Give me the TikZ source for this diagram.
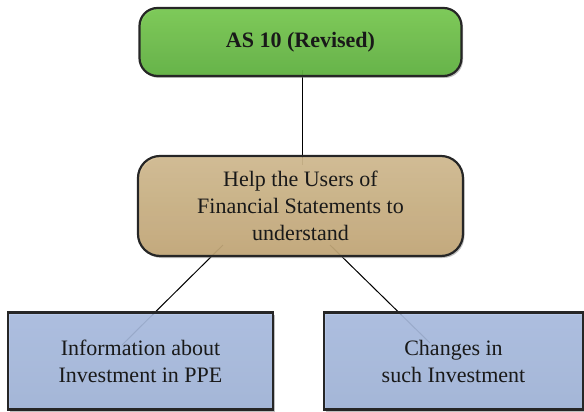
\documentclass[tikz,border=0pt]{standalone}
\usepackage{fontspec}
\setmainfont{Liberation Serif}
\usetikzlibrary{shadows}
\definecolor{grtop}{HTML}{78CB50}
\definecolor{grbot}{HTML}{5EB23D}
\definecolor{tntop}{HTML}{D4BC8F}
\definecolor{tnbot}{HTML}{C4A775}
\definecolor{bltop}{HTML}{AABEE4}
\definecolor{blbot}{HTML}{A0B5DC}
\definecolor{edge}{HTML}{262626}
\tikzset{
  box/.style={draw=edge, line width=2.2pt, align=center, inner sep=0pt,
    font=\fontsize{22}{27}\selectfont, text=black!90,
    drop shadow={shadow xshift=1.5pt, shadow yshift=-2pt, opacity=0.5}},
  greenbox/.style={box, top color=grtop, bottom color=grbot, rounded corners=18pt,
    minimum width=322pt, minimum height=68pt, font=\fontsize{22}{27}\selectfont\bfseries},
  tanbox/.style={box, top color=tntop, bottom color=tnbot, rounded corners=22pt,
    minimum width=325pt, minimum height=100pt},
  bluebox/.style={box, top color=bltop, bottom color=blbot,
    minimum height=97pt},
  link/.style={draw=black, line width=1pt}
}
\begin{document}
\begin{tikzpicture}[x=1pt,y=-1pt]
\useasboundingbox (0,0) rectangle (584,412);
% connector ends
\coordinate (ga) at (302,70);
\coordinate (ta) at (302,165);
\coordinate (tl) at (223,245);
\coordinate (tr) at (330,245);
\coordinate (bl) at (122,345);
\coordinate (br) at (430,343);
\draw[link] (ga) -- (ta);
\draw[link] (tl) -- (bl);
\draw[link] (tr) -- (br);
\node[greenbox, fill opacity=0.9, text opacity=1] (g) at (300.5,42) {AS 10 (Revised)};
\node[tanbox, fill opacity=0.88, text opacity=1] (t) at (300.5,206) {Help the Users of\\Financial Statements to\\understand};
\node[bluebox, minimum width=265pt, fill opacity=0.85, text opacity=1] (l) at (140.5,361) {Information about\\Investment in PPE};
\node[bluebox, minimum width=259pt, fill opacity=0.85, text opacity=1] (r) at (453.5,361) {Changes in\\such Investment};
\end{tikzpicture}
\end{document}
